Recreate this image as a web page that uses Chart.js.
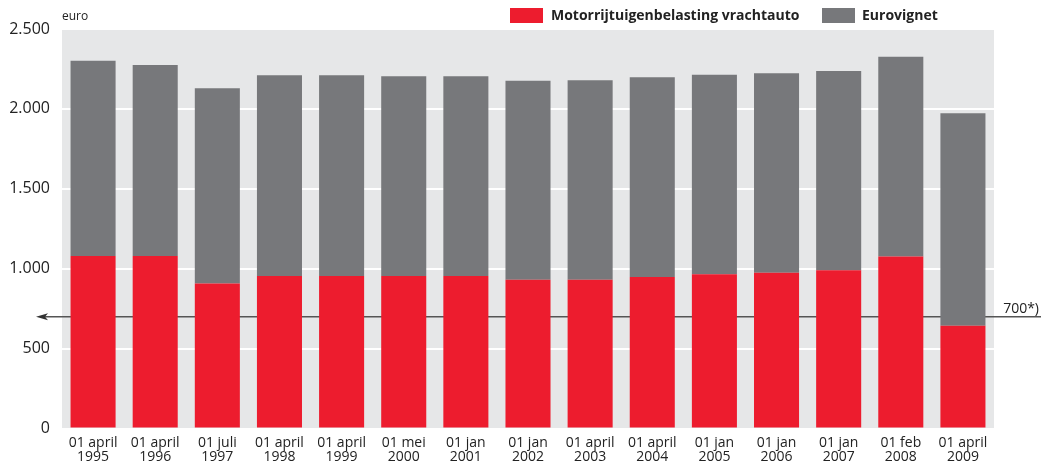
<!DOCTYPE html>
<html>
<head>
<meta charset="utf-8">
<script src="https://cdn.jsdelivr.net/npm/chart.js@4.4.1/dist/chart.umd.min.js"></script>
<style>
  html, body { margin: 0; padding: 0; background: #fff; }
  #wrap { width: 1041px; height: 461px; }
</style>
</head>
<body>
<div id="wrap"><canvas id="belastingChart" width="1041" height="461"></canvas></div>
<script>
const labels = [
    ["01 april", "1995"], ["01 april", "1996"], ["01 juli", "1997"], ["01 april", "1998"],
    ["01 april", "1999"], ["01 mei", "2000"], ["01 jan", "2001"], ["01 jan", "2002"],
    ["01 april", "2003"], ["01 april", "2004"], ["01 jan", "2005"], ["01 jan", "2006"],
    ["01 jan", "2007"], ["01 feb", "2008"], ["01 april", "2009"]
];
const motorrijtuigen = [1079, 1079, 908, 954, 954, 954, 954, 931, 931, 948, 965, 975, 990, 1077, 643];
const eurovignet = [1223, 1196, 1221, 1256, 1256, 1250, 1250, 1245, 1248, 1250, 1249, 1248, 1247, 1250, 1329];
const yTicks = [0, 500, 1000, 1500, 2000, 2500];
const grens = 700;

const FONT = "'Open Sans', 'DejaVu Sans', sans-serif";
const ROOD = "#ed1c2e";
const GRIJS = "#77787b";

// grijze achtergrond achter het plotgebied
const achtergrond = {
    id: "achtergrond",
    beforeDraw(chart) {
        const { ctx, chartArea: a } = chart;
        ctx.save();
        ctx.fillStyle = "#e6e7e8";
        ctx.fillRect(a.left, a.top, a.right - a.left, a.bottom - a.top);
        ctx.restore();
    }
};

// horizontale lijn met pijl op 700 euro, achter de staven
const grenslijn = {
    id: "grenslijn",
    beforeDatasetsDraw(chart) {
        const { ctx } = chart;
        const y = chart.scales.y.getPixelForValue(grens);
        ctx.save();
        ctx.strokeStyle = "#555";
        ctx.lineWidth = 1.5;
        ctx.beginPath();
        ctx.moveTo(40, y);
        ctx.lineTo(1041, y);
        ctx.stroke();
        ctx.fillStyle = "#333";
        ctx.beginPath();
        ctx.moveTo(36, y);
        ctx.lineTo(48, y - 3.5);
        ctx.lineTo(45, y);
        ctx.lineTo(48, y + 3.5);
        ctx.closePath();
        ctx.fill();
        ctx.fillStyle = "#222";
        ctx.font = "14px " + FONT;
        ctx.textAlign = "right";
        ctx.textBaseline = "alphabetic";
        ctx.fillText(grens + "*)", 1039, y - 4);
        ctx.restore();
    }
};

// legenda rechtsboven en eenheid "euro"
const legenda = {
    id: "legenda",
    afterDraw(chart) {
        const { ctx, chartArea: a } = chart;
        ctx.save();
        ctx.textBaseline = "middle";
        ctx.fillStyle = ROOD;
        ctx.fillRect(510, 8, 33, 15);
        ctx.fillStyle = GRIJS;
        ctx.fillRect(822, 8, 33, 15);
        ctx.fillStyle = "#222";
        ctx.font = "bold 14px " + FONT;
        ctx.textAlign = "left";
        ctx.fillText("Motorrijtuigenbelasting vrachtauto", 551, 16);
        ctx.fillText("Eurovignet", 862, 16);
        ctx.font = "12px " + FONT;
        ctx.fillText("euro", a.left, 17);
        ctx.restore();
    }
};

new Chart(document.getElementById("belastingChart"), {
    type: "bar",
    data: {
        labels: labels,
        datasets: [
            { label: "Motorrijtuigenbelasting vrachtauto", data: motorrijtuigen, backgroundColor: ROOD },
            { label: "Eurovignet", data: eurovignet, backgroundColor: GRIJS }
        ]
    },
    options: {
        responsive: false,
        animation: false,
        devicePixelRatio: 1,
        layout: { padding: { top: 29, right: 47, left: 0, bottom: 0 } },
        plugins: { legend: { display: false }, tooltip: { enabled: false } },
        datasets: { bar: { categoryPercentage: 1, barPercentage: 0.725 } },
        scales: {
            x: {
                stacked: true,
                grid: { display: false },
                border: { display: false },
                ticks: {
                    color: "#222",
                    font: { family: FONT, size: 14, lineHeight: 1.0 },
                    padding: 0,
                    maxRotation: 0,
                    autoSkip: false
                },
                afterFit(scale) { scale.height = 32.5; }
            },
            y: {
                stacked: true,
                min: 0,
                max: 2500,
                afterBuildTicks(scale) { scale.ticks = yTicks.map(v => ({ value: v })); },
                grid: { color: "#ffffff", lineWidth: 2, drawTicks: false },
                border: { display: false },
                ticks: {
                    color: "#222",
                    font: { family: FONT, size: 16 },
                    padding: 12,
                    callback: v => v.toLocaleString("nl-NL")
                },
                afterFit(scale) { scale.width = 62; }
            }
        }
    },
    plugins: [achtergrond, grenslijn, legenda]
});
</script>
</body>
</html>
